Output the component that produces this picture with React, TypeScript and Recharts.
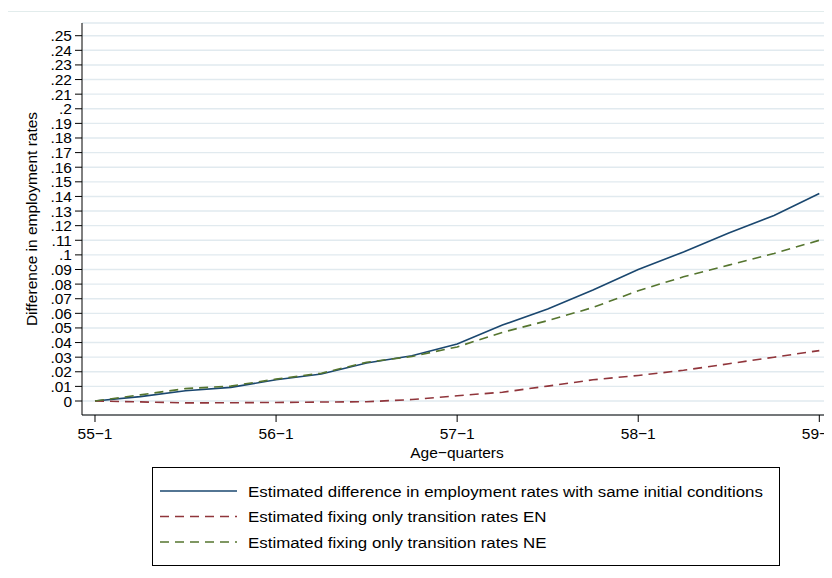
import React from "react";
import { LineChart, Line, XAxis, YAxis, CartesianGrid } from "recharts";

// Quarter index since 55-1
const quarters = [0, 1, 2, 3, 4, 5, 6, 7, 8, 9, 10, 11, 12, 13, 14, 15, 16];
const xTickValues = [0, 4, 8, 12, 16];
const xTickLabels = ["55\u22121", "56\u22121", "57\u22121", "58\u22121", "59\u22121"];
const yTickValues = [
  0, 0.01, 0.02, 0.03, 0.04, 0.05, 0.06, 0.07, 0.08, 0.09, 0.1, 0.11, 0.12,
  0.13, 0.14, 0.15, 0.16, 0.17, 0.18, 0.19, 0.2, 0.21, 0.22, 0.23, 0.24, 0.25,
];
const yTickLabels = [
  "0", ".01", ".02", ".03", ".04", ".05", ".06", ".07", ".08", ".09", ".1", ".11", ".12",
  ".13", ".14", ".15", ".16", ".17", ".18", ".19", ".2", ".21", ".22", ".23", ".24", ".25",
];

const sameInitial = [0, 0.003, 0.007, 0.0093, 0.0145, 0.0185, 0.026, 0.031, 0.039, 0.052, 0.063, 0.076, 0.09, 0.102, 0.115, 0.127, 0.142];
const fixEN = [0, -0.0006, -0.0013, -0.0012, -0.001, -0.0007, -0.0005, 0.001, 0.0036, 0.006, 0.0102, 0.0145, 0.0175, 0.021, 0.0255, 0.03, 0.0345];
const fixNE = [0, 0.0042, 0.0085, 0.0102, 0.015, 0.019, 0.0265, 0.0305, 0.037, 0.047, 0.055, 0.064, 0.0755, 0.085, 0.093, 0.101, 0.11];

const seriesNames = [
  "Estimated difference in employment rates with same initial conditions",
  "Estimated fixing only transition rates EN",
  "Estimated fixing only transition rates NE",
];

const series = [
  { key: "sameInitial", name: seriesNames[0], color: "#1a476f", dash: undefined as string | undefined },
  { key: "fixEN", name: seriesNames[1], color: "#90353b", dash: "9 6" },
  { key: "fixNE", name: seriesNames[2], color: "#55752f", dash: "9 6" },
];

const data = quarters.map((q, i) => ({
  q,
  sameInitial: sameInitial[i],
  fixEN: fixEN[i],
  fixNE: fixNE[i],
}));

const FONT = '"Liberation Sans", Arial, Helvetica, sans-serif';
const FS = 15.5;

export default function App() {
  return (
    <div
      style={{
        position: "relative",
        width: 832,
        height: 578,
        margin: "-8px 0 0 -8px",
        overflow: "hidden",
        background: "#ffffff",
        fontFamily: FONT,
      }}
    >
      <div
        style={{
          position: "absolute",
          left: 7,
          top: 11,
          width: 900,
          height: 620,
          border: "1px solid #e2ecec",
          boxSizing: "border-box",
        }}
      />
      <div style={{ position: "absolute", left: 0, top: 0 }}>
        <LineChart
          width={850}
          height={578}
          data={data}
          margin={{ top: 23, right: 10, bottom: 113, left: 0 }}
        >
          <CartesianGrid
            horizontal={true}
            vertical={false}
            stroke="#e1eaef"
            strokeWidth={1.4}
          />
          <XAxis
            dataKey="q"
            type="number"
            domain={[-0.287, 16.457]}
            ticks={xTickValues}
            tickFormatter={(v: number) => xTickLabels[xTickValues.indexOf(v)]}
            tickSize={7}
            tickMargin={6}
            height={50}
            allowDataOverflow
            axisLine={{ stroke: "#000", strokeWidth: 1 }}
            tickLine={{ stroke: "#000", strokeWidth: 1 }}
            tick={{ fill: "#000", fontSize: FS, fontFamily: FONT }}
            label={(props: any) => {
              const vb = props.viewBox || { x: 82, y: 415 };
              return (
                <text
                  x={vb.x + 375}
                  y={458}
                  textAnchor="middle"
                  fill="#000"
                  fontSize={FS}
                  fontFamily={FONT}
                >
                  Age{"\u2212"}quarters
                </text>
              );
            }}
          />
          <YAxis
            type="number"
            domain={[-0.00958, 0.2587]}
            ticks={yTickValues}
            interval={0}
            allowDataOverflow
            tickFormatter={(v: number) => yTickLabels[yTickValues.indexOf(v)]}
            width={82}
            tickSize={7}
            tickMargin={3}
            axisLine={{ stroke: "#000", strokeWidth: 1 }}
            tickLine={{ stroke: "#000", strokeWidth: 1 }}
            tick={{ fill: "#000", fontSize: FS, fontFamily: FONT }}
            label={(props: any) => {
              const vb = props.viewBox || { x: 0, y: 23, height: 392 };
              const cx = 31;
              const cy = vb.y + vb.height / 2;
              return (
                <text
                  x={cx}
                  y={cy}
                  transform={`rotate(-90 ${cx} ${cy})`}
                  textAnchor="middle"
                  dominantBaseline="central"
                  fill="#000"
                  fontSize={FS}
                  fontFamily={FONT}
                >
                  Difference in employment rates
                </text>
              );
            }}
          />
          {series.map((s) => (
            <Line
              key={s.key}
              type="linear"
              dataKey={s.key}
              name={s.name}
              stroke={s.color}
              strokeWidth={1.6}
              strokeDasharray={s.dash}
              dot={false}
              activeDot={false}
              isAnimationActive={false}
            />
          ))}
        </LineChart>
      </div>
      <svg
        style={{ position: "absolute", left: 152, top: 467 }}
        width={628}
        height={99}
      >
        <rect x={0.5} y={0.5} width={627} height={98} fill="#fff" stroke="#000" strokeWidth={1} />
        {series.map((s, i) => {
          const cy = 24 + i * 25.5;
          return (
            <g key={s.key}>
              <line
                x1={8}
                x2={85}
                y1={cy}
                y2={cy}
                stroke={s.color}
                strokeWidth={1.6}
                strokeDasharray={s.dash}
              />
              <text
                x={0}
                y={0}
                transform={`translate(96 ${cy}) scale(1.09 1)`}
                dominantBaseline="central"
                fill="#000"
                fontSize={FS}
                fontFamily={FONT}
              >
                {s.name}
              </text>
            </g>
          );
        })}
      </svg>
    </div>
  );
}
